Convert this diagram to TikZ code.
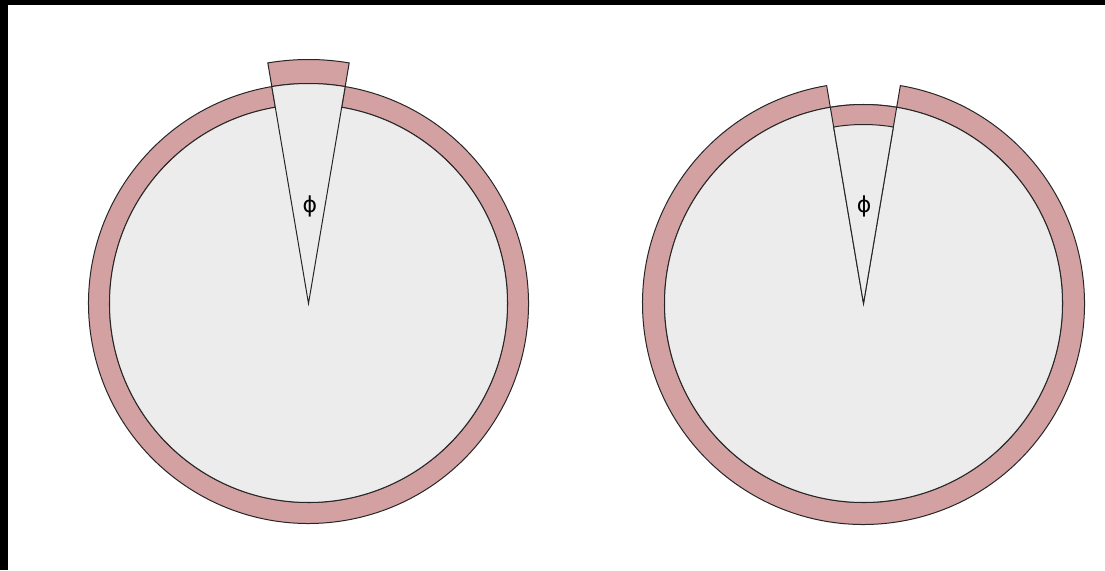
\documentclass[tikz,border=0pt]{standalone}
\usepackage{fontspec}
\usepackage{xcolor}
\usepackage{tikz}
\newfontfamily\phifont{DejaVu Sans}
\definecolor{ringpink}{RGB}{211,161,161}
\definecolor{discgray}{RGB}{236,236,236}

\begin{document}
\begin{tikzpicture}[x=1pt,y=1pt,
  ring/.style={draw=black!85,line width=1pt,fill=ringpink},
  disc/.style={draw=black!85,line width=1pt,fill=discgray},
  angle/.style={font=\phifont\fontsize{22}{26}\selectfont,inner sep=0pt}]

\path[use as bounding box] (0,0) rectangle (1105,570);
% black frame left and top
\fill[black] (0,565) rectangle (1105,570);
\fill[black] (0,0) rectangle (8,570);

% left: the cut wedge reaches beyond the ring
\coordinate (cl) at (308.5,266.5);
\draw[ring] ([shift={(99.6:220)}]cl) arc[start angle=99.6,end angle=440.4,radius=220]
  -- ([shift={(80.4:199)}]cl) arc[start angle=80.4,end angle=-260.4,radius=199] -- cycle;
\draw[disc] (cl) circle[radius=199];
\draw[ring] ([shift={(80.4:220)}]cl) -- ([shift={(80.4:244)}]cl)
  arc[start angle=80.4,end angle=99.6,radius=244] -- ([shift={(99.6:220)}]cl)
  arc[start angle=99.6,end angle=80.4,radius=220] -- cycle;
\draw[disc] (cl) -- ([shift={(80.4:220)}]cl)
  arc[start angle=80.4,end angle=99.6,radius=220] -- cycle;
\node[angle] (phil) at (310,364) {ϕ};

% right: the cut wedge falls short of the ring
\coordinate (cr) at (863.5,266.5);
\draw[ring] ([shift={(99.6:221)}]cr) arc[start angle=99.6,end angle=440.4,radius=221]
  -- ([shift={(80.4:199)}]cr) arc[start angle=80.4,end angle=-260.4,radius=199] -- cycle;
\draw[disc] (cr) circle[radius=199];
\draw[ring] (cr) -- ([shift={(80.4:199)}]cr)
  arc[start angle=80.4,end angle=99.6,radius=199] -- cycle;
\draw[disc] (cr) -- ([shift={(80.4:179)}]cr)
  arc[start angle=80.4,end angle=99.6,radius=179] -- cycle;
\node[angle] (phir) at (864,364) {ϕ};

\end{tikzpicture}
\end{document}
